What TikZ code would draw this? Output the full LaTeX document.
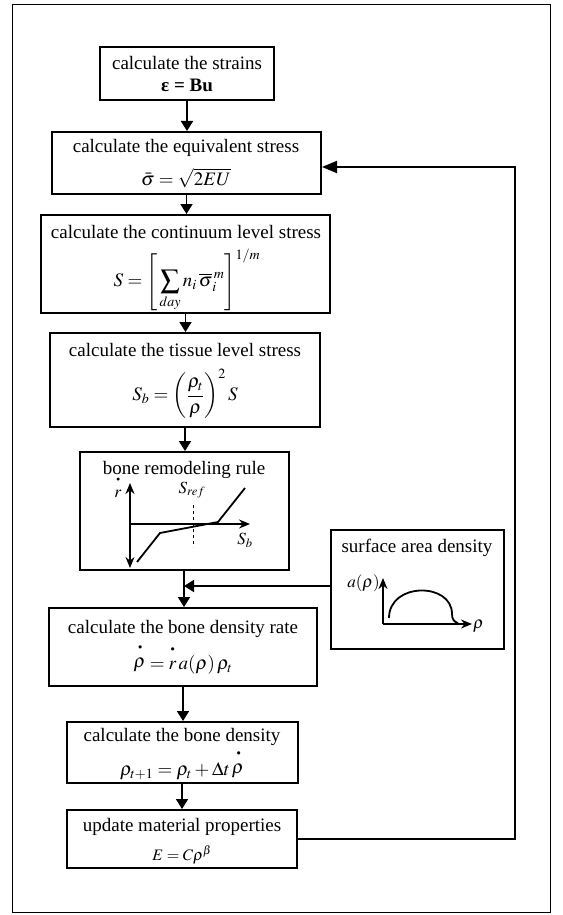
\documentclass[tikz,border=0pt]{standalone}
\usepackage{mathptmx}
\usepackage{fontspec}
\setmainfont{Liberation Serif}
\usetikzlibrary{arrows.meta}
\newcommand{\hdt}[1]{{\stackrel{\raisebox{5pt}{\scalebox{0.45}{$\bullet$}}}{#1}}}
\begin{document}
\begin{tikzpicture}[x=1pt,y=-1pt,
 box/.style={draw,line width=2pt,inner sep=0pt},
 txt/.style={inner sep=0pt,font=\fontsize{19}{22}\selectfont},
 lab/.style={inner sep=0pt,font=\fontsize{17}{20}\selectfont},
 con/.style={line width=1.8pt},
 arr/.style={con,-{Triangle[length=10pt,width=12pt]}},
 bigarr/.style={con,-{Triangle[length=15pt,width=12pt]}},
 axis/.style={line width=1.6pt,-{Stealth[length=11pt,width=9pt]}},
 daxis/.style={line width=1.6pt,{Stealth[length=11pt,width=9pt]}-{Stealth[length=11pt,width=9pt]}},
 curve/.style={line width=1.8pt}]
\useasboundingbox (0,0) rectangle (562,915);
\node[draw,line width=1pt,minimum width=538pt,minimum height=907pt,inner sep=0pt] (frame) at (281,458.5) {};
% boxes
\node[box,minimum width=174pt,minimum height=53pt] (b1) at (187,73.5) {};
\node[box,minimum width=269pt,minimum height=62pt] (b2) at (186.5,163) {};
\node[box,minimum width=289pt,minimum height=98pt] (b3) at (185.5,264) {};
\node[box,minimum width=270pt,minimum height=94pt] (b4) at (185,380) {};
\node[box,minimum width=209pt,minimum height=118pt] (b5) at (184,511) {};
\node[box,minimum width=173pt,minimum height=119pt] (sa) at (417,589.5) {};
\node[box,minimum width=268pt,minimum height=78pt] (b6) at (183,647) {};
\node[box,minimum width=231pt,minimum height=61pt] (b7) at (182,752.5) {};
\node[box,minimum width=230pt,minimum height=58pt] (b8) at (182,839) {};
% texts
\node[txt] (t1) at (187,63) {calculate the strains};
\node[txt] (f1) at (187,85) {\bfseries ε = Bu};
\node[txt] (t2) at (186,148) {calculate the equivalent stress};
\node[txt] (f2) at (186,178) {$\bar{\sigma} = \sqrt{2EU}$};
\node[txt] (t3) at (186,232) {calculate the continuum level stress};
\node[txt] (f3) at (187,280) {$\displaystyle S = \left[\,\sum_{day} n_i\,\overline{\sigma}_i^{\,m}\right]^{1/m}$};
\node[txt] (t4) at (185,350) {calculate the tissue level stress};
\node[txt] (f4) at (185,394) {$\displaystyle S_b = \left(\frac{\rho_t}{\rho}\right)^{2} S$};
\node[txt] (t5) at (184,470) {bone remodeling rule};
\node[txt] (t6) at (417,548) {surface area density};
\node[txt] (t7) at (183,629) {calculate the bone density rate};
\node[txt] (f7) at (183,659) {$\hdt{\rho} = \hdt{r}\,a(\rho)\,\rho_t$};
\node[txt] (t8) at (182,737) {calculate the bone density};
\node[txt] (f8) at (182,765) {$\rho_{t+1} = \rho_t + \Delta t\,\hdt{\rho}$};
\node[txt] (t9) at (182,827) {update material properties};
\node[txt,font=\fontsize{16}{19}\selectfont] (f9) at (182,855) {$E = C\rho^{\beta}$};
% connectors
\draw[arr] (b1.south) -- (b1.south |- b2.north);
\draw[arr] (b2.south) -- (b2.south |- b3.north);
\draw[arr] (b3.south) -- (b3.south |- b4.north);
\draw[arr] (b4.south) -- (b4.south |- b5.north);
\coordinate (jy) at (0,586);
\coordinate (j) at (b5.south |- jy);
\draw[arr] (b5.south) -- (b5.south |- b6.north);
\draw[arr] (sa.west |- j) -- (j);
\draw[arr] (b6.south) -- (b6.south |- b7.north);
\draw[arr] (b7.south) -- (b7.south |- b8.north);
\coordinate (fb1) at (515,839);
\coordinate (fb2) at (515,167);
\draw[bigarr] (b8.east) -- (fb1) -- (fb2) -- (b2.east |- fb2);
% remodeling graph
\draw[daxis] (130,483) -- (130,568);
\draw[axis] (130,524) -- (250,524);
\draw[curve] (137,562) -- (160,533) -- (218,522) -- (245,488);
\draw[dashed,line width=0.9pt] (193,505) -- (193,547);
\node[lab] (rdot) at (118,487) {$\hdt{r}$};
\node[lab] (sref) at (192,490) {$S_{ref}$};
\node[lab] (sb) at (245,540) {$S_b$};
% surface area density graph
\draw[axis] (383,624) -- (383,578);
\draw[axis] (383,624) -- (472,624);
\draw[curve] (389,618) .. controls (389,582) and (452,582) .. (452,614) .. controls (452,619) and (454,622) .. (458,623);
\node[lab,anchor=east] (arho) at (380,583) {$a(\rho)$};
\node[lab,anchor=west] (rho) at (473,626) {$\rho$};
\end{tikzpicture}
\end{document}
